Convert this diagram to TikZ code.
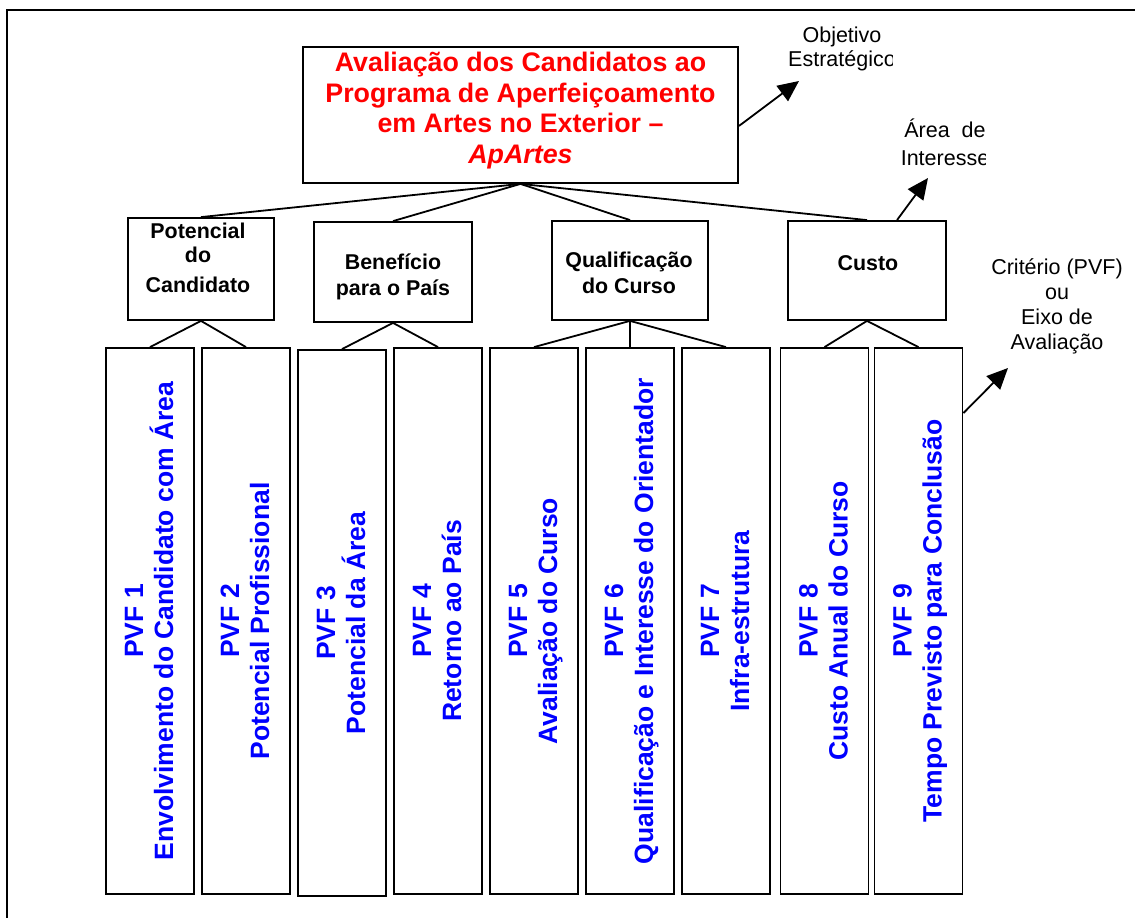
\documentclass[tikz,border=0pt]{standalone}
\usepackage{fontspec}
\setmainfont{Liberation Sans}
\usetikzlibrary{arrows.meta}
\definecolor{goalred}{RGB}{255,0,0}
\definecolor{pvfblue}{RGB}{0,0,255}
% fixed-height struts so every line of a node has the same height/depth
\newcommand\goalstrut{\rule[-6pt]{0pt}{26pt}}
\newcommand\areastrut{\rule[-5pt]{0pt}{21pt}}
\newcommand\pvfstrut{\rule[-6pt]{0pt}{26pt}}
\newcommand\notestrut{\rule[-5pt]{0pt}{21pt}}
\tikzset{
  frame/.style={line width=2.2pt},
  box/.style={draw, line width=1.8pt, inner sep=0pt},
  link/.style={line width=1.8pt},
  callout/.style={line width=1.8pt, -{Triangle[length=21pt,width=19pt]}},
  goaltext/.style={text=goalred, font=\fontsize{26.8}{30.5}\selectfont\bfseries, align=center, inner sep=0pt},
  areatext/.style={font=\fontsize{21.4}{26}\selectfont\bfseries, align=center, inner sep=0pt},
  pvftext/.style={text=pvfblue, font=\fontsize{26.5}{30}\selectfont\bfseries, align=center, rotate=90, inner sep=0pt},
  notetext/.style={font=\fontsize{21.5}{23.3}\selectfont, align=center, inner sep=0pt},
}
\begin{document}
\begin{tikzpicture}[x=1pt,y=-1pt]
\useasboundingbox (0,0) rectangle (1135,918);
% open frame along the top and left
\draw[frame] (7,918) -- (7,10) -- (1135,10);

% strategic objective
\node[box, minimum width=435pt, minimum height=136pt] (goal) at (520.5,115) {};
\node[goaltext] (goaltxt) at (520.5,110.5)
  {\goalstrut Avaliação dos Candidatos ao\\\goalstrut Programa de Aperfeiçoamento\\\goalstrut em Artes no Exterior –\\\goalstrut\textit{ApArtes}};

% areas of interest
\node[box, minimum width=146pt, minimum height=102pt] (c1) at (201,269) {};
\node[box, minimum width=158pt, minimum height=100pt] (c2) at (393,272) {};
\node[box, minimum width=156pt, minimum height=99pt] (c3) at (630,270.5) {};
\node[box, minimum width=158pt, minimum height=99pt] (c4) at (867,270.5) {};
\node[areatext] (c1t) at (198,259.5) {\areastrut Potencial\\[-2pt]\areastrut do\\[4pt]\areastrut Candidato};
\node[areatext] (c2t) at (393,276.5) {\areastrut Benefício\\\areastrut para o País};
\node[areatext] (c3t) at (629,274.5) {\areastrut Qualificação\\\areastrut do Curso};
\node[areatext, anchor=base] (c4t) at (868,270) {Custo};

% criteria (PVF)
\foreach \i/\x/\y in {1/150/621,2/246/621,3/342/623,4/438/621,5/534/621,6/630/621,7/726/621,8/824.5/621,9/918.5/621}
  \node[box, minimum width=88pt, minimum height=546pt] (p\i) at (\x,\y) {};
\foreach \i/\t in {1/{Envolvimento do Candidato com Área},2/{Potencial Profissional},3/{Potencial da Área},4/{Retorno ao País},5/{Avaliação do Curso},6/{Qualificação e Interesse do Orientador},7/{Infra-estrutura},8/{Custo Anual do Curso},9/{Tempo Previsto para Conclusão}}
  \node[pvftext] (pt\i) at ([xshift=1pt]p\i.center) {\pvfstrut PVF \i\\\pvfstrut \t};

% tree connectors
\foreach \c in {c1,c2,c3,c4} \draw[link] (goal.south) -- (\c.north);
\foreach \p in {p1,p2} \draw[link] (c1.south) -- (\p.north);
\foreach \p in {p3,p4} \draw[link] (c2.south) -- (\p.north);
\foreach \p in {p5,p6,p7} \draw[link] (c3.south) -- (\p.north);
\foreach \p in {p8,p9} \draw[link] (c4.south) -- (\p.north);

% level notes
\begin{scope}
  \clip (0,0) rectangle (892,918);
  \node[notetext] (goalnote) at (842,48.85) {\notestrut Objetivo\\\notestrut Estratégico};
\end{scope}
\begin{scope}
  \clip (0,0) rectangle (985,918);
  \node[notetext, font=\fontsize{21.5}{28}\selectfont] (areanote) at (945,144.5) {\notestrut Área\ \ de\\\notestrut Interesse};
\end{scope}
\node[notetext, font=\fontsize{21.5}{25}\selectfont] (critnote) at (1057,306)
  {\notestrut Critério (PVF)\\\notestrut ou\\\notestrut Eixo de\\\notestrut Avaliação};

\coordinate (goaltip) at (799,81);
\coordinate (areatip) at (928,178);
\coordinate (crittip) at (1008,368);
\draw[callout] ([yshift=-11pt]goal.east) -- (goaltip);
\draw[callout] ([xshift=30pt]c4.north) -- (areatip);
\draw[callout] ([yshift=-66pt]p9.north east) -- (crittip);
\end{tikzpicture}
\end{document}
